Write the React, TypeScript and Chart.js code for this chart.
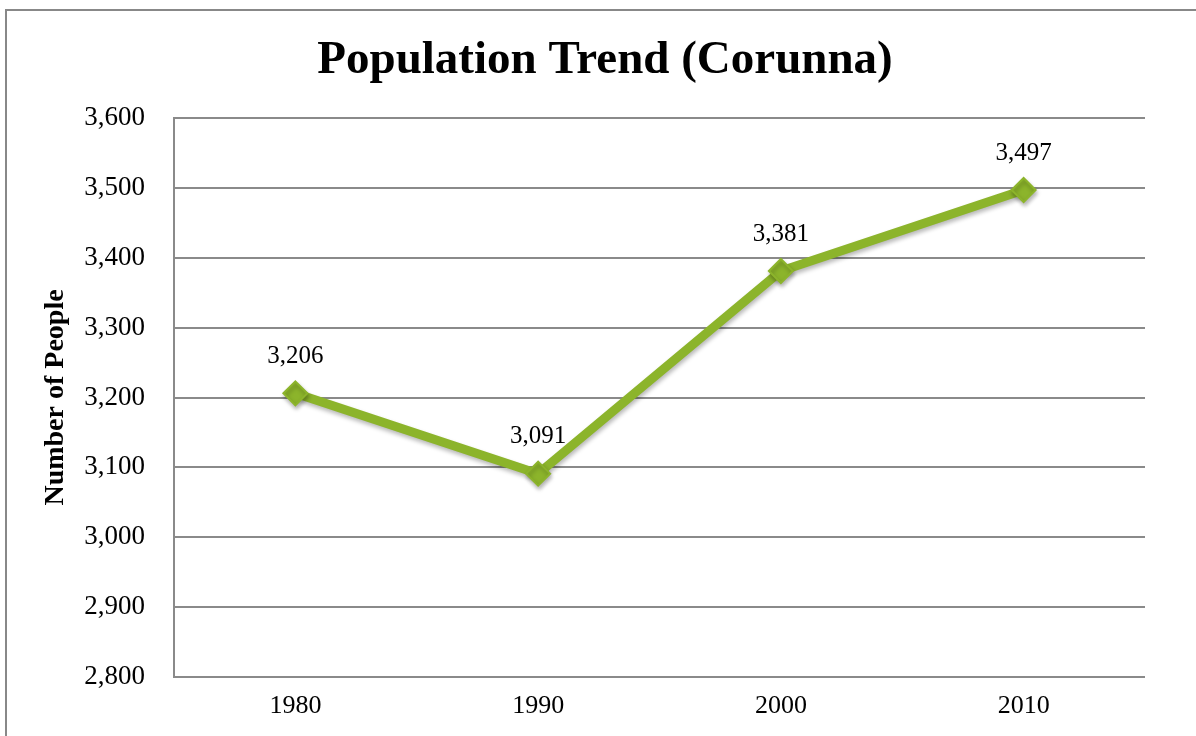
import React, { useEffect, useRef } from "react";
import { Chart, registerables } from "chart.js";

Chart.register(...registerables);

const years = ["1980", "1990", "2000", "2010"];
const population = [3206, 3091, 3381, 3497];
const yMin = 2800;
const yMax = 3600;
const yStep = 100;
const titleText = "Population Trend (Corunna)";

const FONT = "'Liberation Serif', 'Times New Roman', serif";
const GREEN = "#8cb42b";
const GRID = "#8a8a8a";

const fmt = (v: number) => Number(v).toLocaleString("en-US");

const valueLabels = {
  id: "valueLabels",
  afterDatasetsDraw(chart: any) {
    const ctx = chart.ctx;
    const meta = chart.getDatasetMeta(0);
    const data = chart.data.datasets[0].data as number[];
    ctx.save();
    ctx.font = `25px ${FONT}`;
    ctx.fillStyle = "#000";
    ctx.textAlign = "center";
    ctx.textBaseline = "middle";
    meta.data.forEach((pt: any, i: number) => {
      ctx.fillText(fmt(data[i]), pt.x, pt.y - 37);
    });
    ctx.restore();
  },
};

const chartTitle = {
  id: "chartTitle",
  afterDraw(chart: any) {
    const ctx = chart.ctx;
    ctx.save();
    ctx.font = `bold 47px ${FONT}`;
    ctx.fillStyle = "#000";
    ctx.textAlign = "center";
    ctx.textBaseline = "middle";
    ctx.fillText(titleText, 605, 61);
    ctx.restore();
  },
};

const shadow = {
  id: "shadow",
  beforeDatasetDraw(chart: any) {
    const ctx = chart.ctx;
    ctx.save();
    ctx.shadowColor = "rgba(0,0,0,0.28)";
    ctx.shadowBlur = 4;
    ctx.shadowOffsetX = 1;
    ctx.shadowOffsetY = 3;
  },
  afterDatasetDraw(chart: any) {
    chart.ctx.restore();
  },
};

export default function App() {
  const ref = useRef<HTMLCanvasElement | null>(null);

  useEffect(() => {
    if (!ref.current) return;
    const chart = new Chart(ref.current, {
      type: "line",
      data: {
        labels: years,
        datasets: [
          {
            data: population,
            borderColor: GREEN,
            backgroundColor: GREEN,
            borderWidth: 9,
            pointStyle: "rectRot",
            pointRadius: 12,
            pointBorderWidth: 2,
            pointBackgroundColor: GREEN,
            pointBorderColor: GREEN,
            tension: 0,
          },
        ],
      },
      options: {
        animation: false,
        responsive: false,
        layout: { padding: { left: 0, right: 51, top: 118, bottom: 0 } },
        plugins: {
          legend: { display: false },
          tooltip: { enabled: false },
          title: { display: false },
        },
        scales: {
          x: {
            type: "category",
            offset: true,
            grid: { display: false, drawTicks: false },
            border: { display: false },
            ticks: {
              color: "#000",
              font: { family: FONT, size: 26 },
              padding: 14,
            },
            afterFit: (scale: any) => {
              scale.height = 59;
            },
          },
          y: {
            min: yMin,
            max: yMax,
            ticks: {
              stepSize: yStep,
              color: "#000",
              font: { family: FONT, size: 27 },
              padding: 29,
              callback: (v: any) => fmt(v),
            },
            grid: { color: GRID, lineWidth: 2, drawTicks: false },
            border: { display: true, color: GRID, width: 2 },
            title: {
              display: true,
              text: "Number of People",
              color: "#000",
              font: { family: FONT, size: 28, weight: "bold" },
              padding: { top: 39, bottom: 0 },
            },
            afterFit: (scale: any) => {
              scale.width = 174;
            },
          },
        },
      },
      plugins: [shadow, valueLabels, chartTitle],
    } as any);
    return () => chart.destroy();
  }, []);

  return (
    <div
      style={{
        position: "absolute",
        left: 0,
        top: 0,
        width: 1196,
        height: 736,
        overflow: "hidden",
        background: "#fff",
      }}
    >
      <div
        style={{
          position: "absolute",
          left: 5,
          top: 9,
          width: 3000,
          height: 3000,
          border: "2px solid #888",
          boxSizing: "border-box",
        }}
      />
      <canvas
        ref={ref}
        width={1196}
        height={736}
        style={{ position: "absolute", left: 0, top: 0, width: 1196, height: 736 }}
      />
    </div>
  );
}
